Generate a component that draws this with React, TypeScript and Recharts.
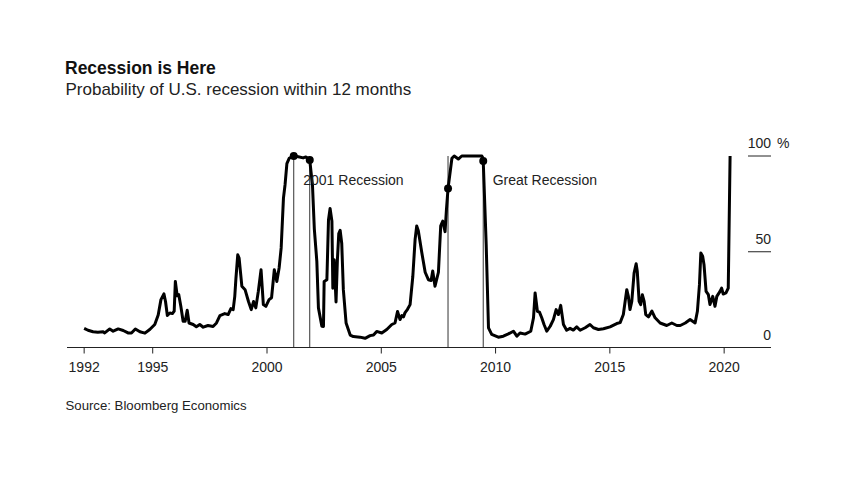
import React from 'react';
import { LineChart, Line, XAxis, YAxis, ReferenceLine, ReferenceDot } from 'recharts';

const dates = [
  1992.0, 1992.17, 1992.39, 1992.6, 1992.83, 1992.9, 1993.12, 1993.27, 1993.49, 1993.71, 1993.92,
  1994.07, 1994.24, 1994.44, 1994.66, 1994.87, 1995.09, 1995.24, 1995.36, 1995.49, 1995.56, 1995.64,
  1995.75, 1995.86, 1995.94, 1995.99, 1996.07, 1996.14, 1996.23, 1996.33, 1996.42, 1996.51, 1996.59,
  1996.77, 1996.91, 1997.06, 1997.21, 1997.42, 1997.64, 1997.79, 1997.94, 1998.15, 1998.3, 1998.42,
  1998.52, 1998.59, 1998.64, 1998.72, 1998.78, 1998.9, 1999.04, 1999.19, 1999.31, 1999.41, 1999.51,
  1999.62, 1999.74, 1999.84, 1999.95, 2000.09, 2000.2, 2000.32, 2000.43, 2000.53, 2000.62, 2000.72,
  2000.79, 2000.87, 2000.97, 2001.09, 2001.17, 2001.37, 2001.58, 2001.7, 2001.87, 2001.99, 2002.07,
  2002.18, 2002.25, 2002.4, 2002.47, 2002.5, 2002.62, 2002.69, 2002.76, 2002.84, 2002.88, 2002.94,
  2003.02, 2003.08, 2003.14, 2003.2, 2003.27, 2003.34, 2003.46, 2003.64, 2003.78, 2004.07, 2004.29,
  2004.51, 2004.66, 2004.8, 2005.02, 2005.24, 2005.46, 2005.6, 2005.71, 2005.82, 2005.9, 2005.97,
  2006.04, 2006.14, 2006.26, 2006.38, 2006.48, 2006.55, 2006.62, 2006.77, 2006.92, 2007.06, 2007.18,
  2007.25, 2007.35, 2007.5, 2007.6, 2007.69, 2007.79, 2007.85, 2007.92, 2008.09, 2008.19, 2008.37,
  2008.52, 2009.4, 2009.46, 2009.59, 2009.69, 2009.83, 2010.12, 2010.34, 2010.56, 2010.78, 2010.93,
  2011.07, 2011.29, 2011.54, 2011.66, 2011.73, 2011.83, 2011.92, 2012.02, 2012.12, 2012.24, 2012.39,
  2012.53, 2012.65, 2012.75, 2012.85, 2012.97, 2013.11, 2013.26, 2013.4, 2013.55, 2013.7, 2013.92,
  2014.13, 2014.28, 2014.5, 2014.72, 2015.01, 2015.3, 2015.45, 2015.59, 2015.74, 2015.81, 2015.88,
  2015.96, 2016.06, 2016.15, 2016.2, 2016.28, 2016.35, 2016.42, 2016.5, 2016.57, 2016.69, 2016.84,
  2016.98, 2017.2, 2017.49, 2017.71, 2017.93, 2018.08, 2018.3, 2018.51, 2018.73, 2018.83, 2018.92,
  2018.98, 2019.06, 2019.12, 2019.21, 2019.31, 2019.38, 2019.5, 2019.6, 2019.68, 2019.82, 2019.89,
  2019.96, 2020.08, 2020.18, 2020.26,
];

const probability = [
  10, 9, 8.2, 8.0, 8.2, 7.6, 9.7, 8.5, 9.7, 8.9, 7.6,
  7.6, 9.7, 8.2, 7.5, 9.4, 12, 17, 25, 28, 24, 16.7,
  18, 17.7, 19, 34.5, 27, 27.6, 21.5, 13.7, 13.7, 19.4, 12.8,
  12, 10.8, 12, 10.6, 11.5, 11, 12.8, 16.7, 17.7, 17.2, 20.3,
  19.8, 26.7, 36, 48.4, 46.7, 32, 30.2, 24, 19.8, 24, 20.7,
  29.3, 40.6, 22.4, 21.5, 25, 26, 40.6, 34.5, 41.5, 52, 78,
  85, 96, 98.8, 99.6, 100, 99.6, 99, 99.5, 97.9, 84.6, 62,
  45, 20.7, 11.1, 11, 34.5, 35.4, 66.6, 72.6, 66, 31, 45.8,
  23.8, 45.8, 59.5, 61.2, 54.3, 30.2, 12.8, 6.5, 5.7, 5.4, 4.8,
  6.2, 6.5, 8.4, 7.6, 9.4, 12, 12.8, 18.8, 14.6, 16.7, 16,
  18.2, 19.8, 22.4, 37.2, 56.5, 63.5, 61, 49.7, 39.3, 35.4, 35,
  40, 32, 39.3, 63.5, 66, 60.5, 71.9, 83, 98.8, 100, 98.4,
  100, 100, 97.4, 53.6, 10.3, 6.8, 5.4, 5.9, 7.1, 8.5, 5.9,
  7.6, 7, 8.5, 15.5, 28.5, 18.9, 18.5, 15.5, 12, 8.5, 11.1,
  14.6, 19.8, 17.2, 22, 12, 9, 10, 9.1, 10.8, 9, 10.3,
  12, 10.3, 9.4, 9.8, 10.8, 12.5, 13, 17.2, 30.2, 26.7, 19.8,
  24.1, 38.9, 43.7, 39.7, 24.1, 22.4, 27.6, 24.1, 17.2, 16, 19,
  15.5, 12.8, 11.5, 12.8, 11.5, 11.5, 12.8, 14.6, 12.8, 18.9, 32.8,
  49.3, 47.6, 43.2, 29.3, 27.6, 22.4, 26.7, 21.5, 26.7, 29.3, 31,
  27.9, 28.5, 31, 100,
];

const xTicks = [1992, 1995, 2000, 2005, 2010, 2015, 2020];
const yTicks = [0, 50, 100];

const recessionNames = ['2001 Recession', 'Great Recession'];
const recessionStarts = [2001.17, 2007.92];
const recessionEnds = [2001.87, 2009.46];

const data = dates.map((t, i) => ({ t, p: probability[i] }));
const valueAt = (t: number) => probability[dates.indexOf(t)];

const FONT = '"Liberation Sans", Arial, Helvetica, sans-serif';

const RightTick = (props: any) => {
  const { x, y, payload } = props;
  const v = payload.value;
  return (
    <g>
      {v !== 0 && <line x1={x - 23} x2={x} y1={y} y2={y} stroke="#222" strokeWidth={1} />}
      <text x={x} y={y - 8} textAnchor="end" fontSize={14} fill="#222" fontFamily={FONT}>
        {v}
      </text>
      {v === 100 && (
        <text x={x + 6} y={y - 8} textAnchor="start" fontSize={14} fill="#222" fontFamily={FONT}>
          %
        </text>
      )}
    </g>
  );
};

const makeLabel = (text: string, dx: number, dy: number) => (props: any) => {
  const vb = props.viewBox || {};
  const cx = (vb.x ?? 0) + (vb.width ?? 0) / 2;
  const cy = (vb.y ?? 0) + (vb.height ?? 0) / 2;
  return (
    <text x={cx + dx} y={cy + dy} fontSize={14} fill="#222" fontFamily={FONT}>
      {text}
    </text>
  );
};

const labelOffsets = [
  [-6.5, 25],
  [9.5, 24],
];

export default function App() {
  return (
    <div style={{ position: 'relative', width: 834, height: 462, fontFamily: FONT, color: '#111' }}>
      <div style={{ position: 'absolute', left: 57, top: 52, fontSize: 17.5, fontWeight: 'bold', lineHeight: 1, whiteSpace: 'nowrap' }}>
        Recession is Here
      </div>
      <div style={{ position: 'absolute', left: 57.5, top: 73.2, fontSize: 17, lineHeight: 1, whiteSpace: 'nowrap', color: '#222' }}>
        Probability of U.S. recession within 12 months
      </div>
      <div style={{ position: 'absolute', left: 57.5, top: 390.6, fontSize: 13.2, lineHeight: 1, whiteSpace: 'nowrap', color: '#222' }}>
        Source: Bloomberg Economics
      </div>
      <div style={{ position: 'absolute', left: 0, top: 0 }}>
        <LineChart width={834} height={462} data={data} margin={{ top: 148, right: 0, bottom: 92.5, left: 59 }}>
          <XAxis
            dataKey="t"
            type="number"
            domain={[1991.25, 2022.05]}
            ticks={xTicks}
            tickSize={6}
            tickMargin={9}
            height={30}
            axisLine={{ stroke: '#222', strokeWidth: 1 }}
            tickLine={{ stroke: '#222', strokeWidth: 1 }}
            tick={{ fontSize: 14, fill: '#222', fontFamily: FONT }}
            interval={0}
          />
          <YAxis
            yAxisId={0}
            orientation="right"
            type="number"
            domain={[0, 100]}
            ticks={yTicks}
            width={71}
            axisLine={false}
            tickLine={false}
            tickSize={0}
            tickMargin={0}
            tick={<RightTick />}
            allowDataOverflow={false}
          />
          {recessionStarts.map((s, i) => (
            <ReferenceLine
              key={'s' + i}
              segment={[{ x: s, y: 0 }, { x: s, y: 100 }]}
              stroke="#333"
              strokeWidth={1}
            />
          ))}
          {recessionEnds.map((e, i) => (
            <ReferenceLine
              key={'e' + i}
              segment={[{ x: e, y: 0 }, { x: e, y: 100 }]}
              stroke="#333"
              strokeWidth={1}
            />
          ))}
          <Line
            type="linear"
            dataKey="p"
            stroke="#000"
            strokeWidth={3}
            dot={false}
            activeDot={false}
            isAnimationActive={false}
            strokeLinejoin="round"
          />
          {recessionStarts.map((s, i) => (
            <ReferenceDot key={'ds' + i} x={s} y={valueAt(s)} r={4} fill="#000" stroke="none" />
          ))}
          {recessionEnds.map((e, i) => (
            <ReferenceDot
              key={'de' + i}
              x={e}
              y={valueAt(e)}
              r={4}
              fill="#000"
              stroke="none"
              label={makeLabel(recessionNames[i], labelOffsets[i][0], labelOffsets[i][1])}
            />
          ))}
        </LineChart>
      </div>
    </div>
  );
}
